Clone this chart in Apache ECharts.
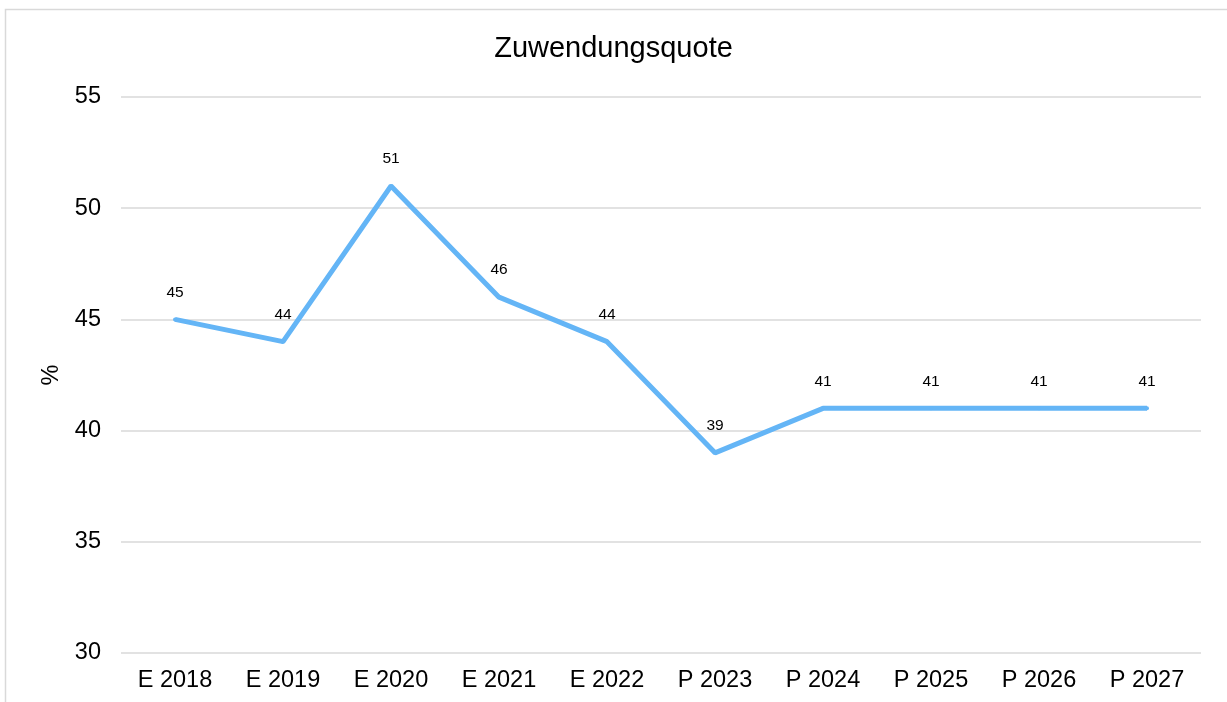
<!DOCTYPE html>
<html>
<head>
<meta charset="utf-8">
<script src="https://cdn.jsdelivr.net/npm/echarts@6/dist/echarts.min.js"></script>
<style>
  html, body { margin: 0; padding: 0; background: #fff; }
  #chart { width: 1227px; height: 702px; }
</style>
</head>
<body>
<div id="chart"></div>
<script>
// Daten
const categories = ['E 2018', 'E 2019', 'E 2020', 'E 2021', 'E 2022', 'P 2023', 'P 2024', 'P 2025', 'P 2026', 'P 2027'];
const quote = [45, 44, 51, 46, 44, 39, 41, 41, 41, 41];
const yTicks = { min: 30, max: 55, interval: 5 };

const chart = echarts.init(document.getElementById('chart'));
const font = 'Liberation Sans, Arial, sans-serif';

chart.setOption({
    textStyle: { fontFamily: font },
    graphic: [{
        type: 'rect',
        shape: { x: 5.5, y: 9.5, width: 1240, height: 720 },
        style: { fill: 'none', stroke: '#d9d9d9', lineWidth: 1.5 },
        silent: true
    }],
    title: {
        text: 'Zuwendungsquote',
        left: 'center',
        top: 29,
        textStyle: { fontFamily: font, fontSize: 29, fontWeight: 'normal', color: '#000' }
    },
    grid: { left: 121, right: 26, top: 97, bottom: 49, containLabel: false },
    xAxis: {
        type: 'category',
        data: categories,
        boundaryGap: true,
        axisLine: { show: false },
        axisTick: { show: false },
        axisLabel: { fontFamily: font, fontSize: 23.5, color: '#000', margin: 16, interval: 0 }
    },
    yAxis: {
        type: 'value',
        min: yTicks.min,
        max: yTicks.max,
        interval: yTicks.interval,
        name: '%',
        nameLocation: 'middle',
        nameGap: 53,
        nameRotate: 90,
        nameTextStyle: { fontFamily: font, fontSize: 23.5, color: '#000' },
        axisLine: { show: false },
        axisTick: { show: false },
        axisLabel: { fontFamily: font, fontSize: 23.5, color: '#000', margin: 20 },
        splitLine: { lineStyle: { color: '#d9d9d9', width: 1.5 } }
    },
    series: [{
        type: 'line',
        data: quote,
        symbol: 'circle',
        symbolSize: 4,
        showSymbol: true,
        itemStyle: { color: '#64b5f6' },
        lineStyle: { color: '#64b5f6', width: 5 },
        label: {
            show: true,
            position: 'top',
            distance: 17,
            fontFamily: font,
            fontSize: 15.5,
            color: '#000'
        },
        labelLayout: { hideOverlap: false },
        animation: false
    }]
});
</script>
</body>
</html>
